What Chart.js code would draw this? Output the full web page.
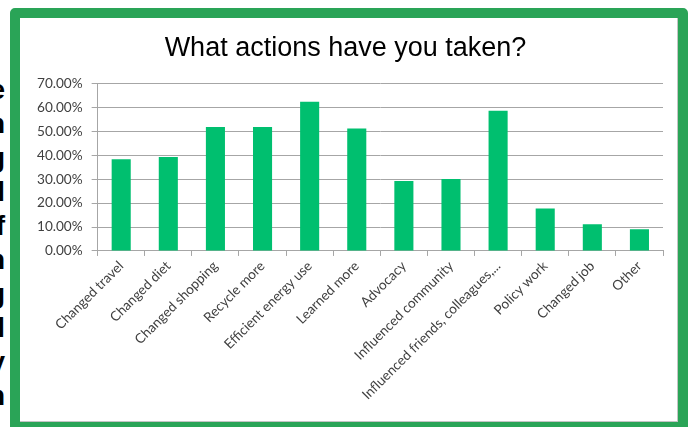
<!DOCTYPE html>
<html>
<head>
<meta charset="utf-8">
<script src="https://cdn.jsdelivr.net/npm/chart.js@4.4.1/dist/chart.umd.min.js"></script>
<style>
  html, body { margin: 0; padding: 0; background: #fff; overflow: hidden; }
  body { width: 688px; height: 427px; position: relative; }
  .behind {
    position: absolute; left: -63px; top: 73px; width: 68px;
    text-align: right; font: bold 28px "Liberation Sans", Arial, sans-serif;
    line-height: 34px; color: #000;
  }
  .frame {
    position: absolute; left: 10px; top: 8px;
    width: 658px; height: 404px;
    border: 10px solid #2aa457; border-radius: 5px;
    background: #fff;
  }
  .inner {
    position: absolute; left: 0; top: 0; width: 657px; height: 403px;
    border-right: 1px solid #c4c4c4; border-bottom: 1px solid #c4c4c4;
  }
</style>
</head>
<body>
<div class="behind">e<br>n<br>g<br>l<br>f<br>n<br>g<br>l<br>y<br>n</div>
<div class="frame">
  <div class="inner"><canvas id="grafica"></canvas></div>
</div>
<script>
  // valores (porcentaje de respuestas)
  const categorias = [
    'Changed travel', 'Changed diet', 'Changed shopping', 'Recycle more',
    'Efficient energy use', 'Learned more', 'Advocacy', 'Influenced community',
    'Influenced friends, colleagues,...', 'Policy work', 'Changed job', 'Other'
  ];
  const valores = [38.3, 39.2, 51.8, 51.8, 62.3, 51.2, 29.2, 30.1, 58.6, 17.7, 11.2, 9.1];
  const ejeMax = 70;
  const ejePaso = 10;

  const ctx = document.getElementById('grafica').getContext('2d');

  const grafica = new Chart(ctx, {
    type: 'bar',
    data: {
      labels: categorias,
      datasets: [{
        label: 'Actions',
        data: valores,
        backgroundColor: '#00bf6f',
        borderWidth: 0,
        barPercentage: 0.405,
        categoryPercentage: 1
      }]
    },
    options: {
      responsive: true,
      maintainAspectRatio: false,
      animation: false,
      layout: { padding: { left: 8, right: 14, top: 0, bottom: 16 } },
      plugins: {
        legend: { display: false },
        tooltip: { enabled: false },
        title: {
          display: true,
          text: 'What actions have you taken?',
          color: '#000',
          font: { family: '"Liberation Sans", Arial, sans-serif', size: 27, weight: 'normal' },
          padding: { top: 14, bottom: 19 }
        }
      },
      scales: {
        x: {
          grid: { drawOnChartArea: false, drawTicks: true, tickLength: 5, color: '#a6a6a6' },
          border: { color: '#a6a6a6' },
          ticks: {
            autoSkip: false, maxRotation: 45, minRotation: 45, padding: 2,
            color: '#404040',
            font: { family: 'Lato, sans-serif', size: 13.6 }
          }
        },
        y: {
          min: 0,
          max: ejeMax,
          grid: { color: '#a6a6a6', tickLength: 6 },
          border: { color: '#a6a6a6' },
          ticks: {
            stepSize: ejePaso, padding: 9,
            color: '#404040',
            font: { family: 'Lato, sans-serif', size: 13.6 },
            callback: v => v.toFixed(2) + '%'
          }
        }
      }
    }
  });
</script>
</body>
</html>
